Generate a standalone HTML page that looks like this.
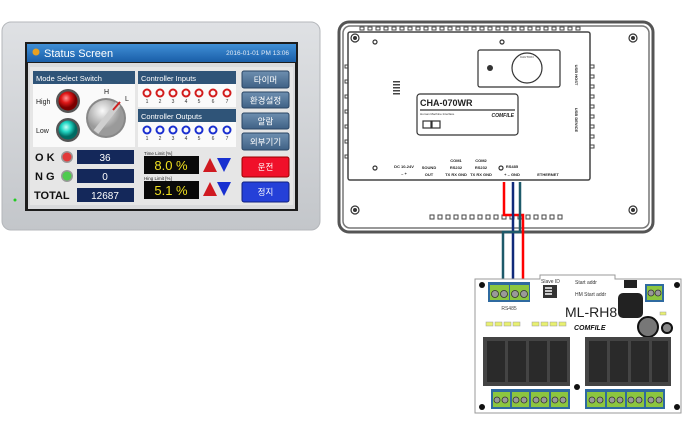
<!DOCTYPE html>
<html><head><meta charset="utf-8"><style>
html,body{margin:0;padding:0;background:#fff;width:682px;height:444px;overflow:hidden}
svg{display:block}
text{font-family:"Liberation Sans","Noto Sans CJK KR",sans-serif}
</style></head><body>
<svg width="682" height="444" viewBox="0 0 682 444" xmlns="http://www.w3.org/2000/svg">
<defs>
<linearGradient id="bez" x1="0" y1="0" x2="0" y2="1"><stop offset="0" stop-color="#dfe1e4"/><stop offset="1" stop-color="#c3c6ca"/></linearGradient>
<linearGradient id="tb" x1="0" y1="0" x2="0" y2="1"><stop offset="0" stop-color="#3f8fd6"/><stop offset="1" stop-color="#1a5ea8"/></linearGradient>
<linearGradient id="btn" x1="0" y1="0" x2="0" y2="1"><stop offset="0" stop-color="#6e8fb0"/><stop offset="1" stop-color="#3f6185"/></linearGradient>
<radialGradient id="red" cx="0.4" cy="0.35"><stop offset="0" stop-color="#ff9a9a"/><stop offset="0.5" stop-color="#e01818"/><stop offset="1" stop-color="#7a0000"/></radialGradient>
<radialGradient id="cyan" cx="0.4" cy="0.35"><stop offset="0" stop-color="#c8fff8"/><stop offset="0.5" stop-color="#22d6c4"/><stop offset="1" stop-color="#006a62"/></radialGradient>
<radialGradient id="knob" cx="0.4" cy="0.3"><stop offset="0" stop-color="#fafafa"/><stop offset="1" stop-color="#9a9a9a"/></radialGradient>
</defs>

<!-- LEFT HMI -->
<rect x="2" y="22" width="318" height="208" rx="9" fill="url(#bez)" stroke="#b4b7bb"/>
<rect x="25" y="42" width="273" height="169" fill="#1c1c1c"/>
<rect x="27" y="44" width="269" height="18" fill="url(#tb)"/>
<circle cx="36" cy="52" r="3.5" fill="#e8a020"/>
<text x="44" y="57" font-size="11" fill="#fff">Status Screen</text>
<text x="289" y="55" font-size="6.5" fill="#dfe8f5" text-anchor="end">2016-01-01 PM 13:06</text>
<rect x="28" y="63" width="267" height="146" fill="#d9dadc"/>
<rect x="30" y="67" width="263" height="138" fill="#e6e6e6"/>
<!-- mode select -->
<rect x="33" y="71" width="102" height="76" fill="#fafafa"/>
<rect x="33" y="71" width="102" height="13" fill="#2f5478"/>
<text x="36" y="81" font-size="7.5" fill="#fff">Mode Select Switch</text>
<text x="36" y="104" font-size="7" fill="#222">High</text>
<text x="36" y="133" font-size="7" fill="#222">Low</text>
<circle cx="68" cy="101" r="12" fill="#555"/><circle cx="68" cy="101" r="9.5" fill="url(#red)"/>
<circle cx="68" cy="130" r="12" fill="#555"/><circle cx="68" cy="130" r="9.5" fill="url(#cyan)"/>
<text x="104" y="94" font-size="7" fill="#222">H</text><text x="125" y="101" font-size="7" fill="#222">L</text>
<circle cx="106" cy="118" r="20" fill="#888"/><circle cx="106" cy="118" r="18" fill="url(#knob)"/>
<line x1="96" y1="132" x2="118" y2="104" stroke="#cfcfcf" stroke-width="6"/>
<line x1="113" y1="110" x2="120" y2="102" stroke="#d02020" stroke-width="2"/>
<!-- controller inputs -->
<rect x="138" y="71" width="98" height="36" fill="#fafafa"/>
<rect x="138" y="71" width="98" height="13" fill="#2f5478"/>
<text x="141" y="81" font-size="7.5" fill="#fff">Controller Inputs</text>
<rect x="138" y="109" width="98" height="38" fill="#fafafa"/>
<rect x="138" y="109" width="98" height="13" fill="#2f5478"/>
<text x="141" y="119" font-size="7.5" fill="#fff">Controller Outputs</text>
<g font-size="5" fill="#333" text-anchor="middle">
<g fill="none" stroke="#d21c1c" stroke-width="2">
<circle cx="147" cy="93" r="3.5"/><circle cx="160" cy="93" r="3.5"/><circle cx="173" cy="93" r="3.5"/><circle cx="186" cy="93" r="3.5"/><circle cx="199" cy="93" r="3.5"/><circle cx="213" cy="93" r="3.5"/><circle cx="227" cy="93" r="3.5"/></g>
<text x="147" y="103">1</text><text x="160" y="103">2</text><text x="173" y="103">3</text><text x="186" y="103">4</text><text x="199" y="103">5</text><text x="213" y="103">6</text><text x="227" y="103">7</text>
<g fill="none" stroke="#1a2fd0" stroke-width="2">
<circle cx="147" cy="130" r="3.5"/><circle cx="160" cy="130" r="3.5"/><circle cx="173" cy="130" r="3.5"/><circle cx="186" cy="130" r="3.5"/><circle cx="199" cy="130" r="3.5"/><circle cx="213" cy="130" r="3.5"/><circle cx="227" cy="130" r="3.5"/></g>
<text x="147" y="140">1</text><text x="160" y="140">2</text><text x="173" y="140">3</text><text x="186" y="140">4</text><text x="199" y="140">5</text><text x="213" y="140">6</text><text x="227" y="140">7</text>
</g>
<!-- buttons -->
<g font-size="8.5" fill="#fff" text-anchor="middle">
<rect x="242" y="71" width="47" height="17" rx="2" fill="url(#btn)" stroke="#2a4564"/><text x="265.5" y="83">타이머</text>
<rect x="242" y="92" width="47" height="16" rx="2" fill="url(#btn)" stroke="#2a4564"/><text x="265.5" y="103.5">환경설정</text>
<rect x="242" y="113" width="47" height="16" rx="2" fill="url(#btn)" stroke="#2a4564"/><text x="265.5" y="124.5">알람</text>
<rect x="242" y="133" width="47" height="17" rx="2" fill="url(#btn)" stroke="#2a4564"/><text x="265.5" y="145">외부기기</text>
<rect x="242" y="157" width="47" height="20" rx="2" fill="#f0102a" stroke="#900"/><text x="265.5" y="170">운전</text>
<rect x="242" y="182" width="47" height="20" rx="2" fill="#2540d8" stroke="#102080"/><text x="265.5" y="195">정지</text>
</g>
<!-- counters -->
<g font-size="11" font-weight="bold" fill="#111">
<text x="35" y="161">O K</text><text x="35" y="180">N G</text><text x="34" y="199">TOTAL</text></g>
<circle cx="67" cy="157" r="6" fill="#999"/><circle cx="67" cy="157" r="4.5" fill="#e23a3a"/>
<circle cx="67" cy="176" r="6" fill="#999"/><circle cx="67" cy="176" r="4.5" fill="#4ecb4e"/>
<g fill="#14285a"><rect x="77" y="150" width="57" height="14"/><rect x="77" y="169" width="57" height="14"/><rect x="77" y="188" width="57" height="14"/></g>
<g font-size="10" fill="#fff" text-anchor="middle"><text x="105" y="161">36</text><text x="105" y="180">0</text><text x="105" y="199">12687</text></g>
<text x="144" y="155" font-size="4.5" fill="#222">Time Limit [%]</text>
<text x="144" y="180" font-size="4.5" fill="#222">Hing Limit [%]</text>
<rect x="144" y="156" width="55" height="18" fill="#0a0a0a"/><rect x="144" y="181" width="55" height="18" fill="#0a0a0a"/>
<g font-size="13" fill="#f0e020" text-anchor="middle"><text x="171" y="170">8.0 %</text><text x="171" y="195">5.1 %</text></g>
<polygon points="203,172 210,158 217,172" fill="#d01a20"/><polygon points="217,158 231,158 224,172" fill="#1830d0"/>
<polygon points="203,196 210,182 217,196" fill="#d01a20"/><polygon points="217,182 231,182 224,196" fill="#1830d0"/>
<circle cx="15" cy="200" r="1.5" fill="#2c2"/>

<!-- RIGHT DEVICE BACK -->
<rect x="339" y="22" width="314" height="210" rx="10" fill="#fff" stroke="#555" stroke-width="3"/>
<rect x="343" y="26" width="306" height="202" rx="7" fill="none" stroke="#777" stroke-width="1.5"/>
<rect x="348" y="32" width="242" height="148" rx="2" fill="#fff" stroke="#444" stroke-width="1.5"/>
<g fill="none" stroke="#444" stroke-width="1">
<path d="M360 30 h4 v-3 h-4z M368 30 h4 v-3 h-4z M376 30 h4 v-3 h-4z M384 30 h4 v-3 h-4z M392 30 h4 v-3 h-4z M400 30 h4 v-3 h-4z M408 30 h4 v-3 h-4z M416 30 h4 v-3 h-4z M424 30 h4 v-3 h-4z M432 30 h4 v-3 h-4z M440 30 h4 v-3 h-4z M448 30 h4 v-3 h-4z M456 30 h4 v-3 h-4z M464 30 h4 v-3 h-4z M472 30 h4 v-3 h-4z M480 30 h4 v-3 h-4z M488 30 h4 v-3 h-4z M496 30 h4 v-3 h-4z M504 30 h4 v-3 h-4z M512 30 h4 v-3 h-4z M520 30 h4 v-3 h-4z M528 30 h4 v-3 h-4z M536 30 h4 v-3 h-4z M544 30 h4 v-3 h-4z M552 30 h4 v-3 h-4z M560 30 h4 v-3 h-4z M568 30 h4 v-3 h-4z M576 30 h4 v-3 h-4z"/>
<path d="M430 219 h4 v-4 h-4z M438 219 h4 v-4 h-4z M446 219 h4 v-4 h-4z M454 219 h4 v-4 h-4z M462 219 h4 v-4 h-4z M470 219 h4 v-4 h-4z M478 219 h4 v-4 h-4z M486 219 h4 v-4 h-4z M494 219 h4 v-4 h-4z M502 219 h4 v-4 h-4z M510 219 h4 v-4 h-4z M518 219 h4 v-4 h-4z M526 219 h4 v-4 h-4z M534 219 h4 v-4 h-4z M542 219 h4 v-4 h-4z M550 219 h4 v-4 h-4z M558 219 h4 v-4 h-4z"/>
<path d="M590 65 h4 v3 h-4 M590 75 h4 v3 h-4 M590 85 h4 v3 h-4 M590 95 h4 v3 h-4 M590 105 h4 v3 h-4 M590 115 h4 v3 h-4 M590 125 h4 v3 h-4 M590 135 h4 v3 h-4 M590 145 h4 v3 h-4 M348 65 h-3 v3 h3 M348 80 h-3 v3 h3 M348 95 h-3 v3 h3 M348 110 h-3 v3 h3 M348 125 h-3 v3 h3 M348 140 h-3 v3 h3 M348 155 h-3 v3 h3"/>
</g>
<g fill="#444"><rect x="393" y="81" width="7" height="1.5"/><rect x="393" y="84" width="7" height="1.5"/><rect x="393" y="87" width="7" height="1.5"/><rect x="393" y="90" width="7" height="1.5"/><rect x="393" y="93" width="7" height="1.5"/></g>
<g fill="none" stroke="#333" stroke-width="1.2">
<circle cx="355" cy="38" r="4"/><circle cx="633" cy="38" r="4"/><circle cx="355" cy="210" r="4"/><circle cx="633" cy="210" r="4"/>
<circle cx="375" cy="42" r="2"/><circle cx="502" cy="42" r="2"/><circle cx="375" cy="168" r="2"/><circle cx="501" cy="168" r="2"/>
<rect x="478" y="50" width="82" height="37" rx="2"/>
<circle cx="527" cy="68" r="15"/>
<rect x="417" y="94" width="101" height="41" rx="3"/>
<rect x="423" y="121" width="8" height="7"/><rect x="432" y="121" width="8" height="7"/>
</g>
<g fill="#333"><circle cx="355" cy="38" r="2"/><circle cx="633" cy="38" r="2"/><circle cx="355" cy="210" r="2"/><circle cx="633" cy="210" r="2"/><circle cx="490" cy="68" r="3"/></g>
<text x="420" y="106" font-size="9" font-weight="bold" fill="#222">CHA-070WR</text>
<line x1="420" y1="110" x2="515" y2="110" stroke="#555" stroke-width="1.5"/>
<text x="420" y="115" font-size="3" fill="#333">Human Machine Interface</text>
<text x="514" y="117" font-size="5" font-weight="bold" font-style="italic" fill="#222" text-anchor="end">COMFILE</text>
<text x="520" y="58" font-size="3" fill="#333">CAUTION</text>
<g font-size="4" fill="#222" text-anchor="middle" font-weight="bold">
<text x="404" y="168">DC 10-24V</text><text x="404" y="175">–  +</text>
<text x="429" y="169">SOUND</text><text x="429" y="176">OUT</text>
<text x="456" y="162">COM1</text><text x="456" y="169">RS232</text><text x="456" y="176">TX RX GND</text>
<text x="481" y="162">COM2</text><text x="481" y="169">RS232</text><text x="481" y="176">TX RX GND</text>
<text x="512" y="168">RS485</text><text x="512" y="176">+ –  GND</text>
<text x="548" y="176">ETHERNET</text>
<text x="575" y="75" transform="rotate(90 575 75)">USB HOST</text>
<text x="575" y="120" transform="rotate(90 575 120)">USB DEVICE</text>
</g>

<!-- WIRES -->
<polyline points="504,182 504,215 523,215 523,281" fill="none" stroke="#f00" stroke-width="2.5"/>
<polyline points="513,182 513,281" fill="none" stroke="#102a7a" stroke-width="2.5"/>
<polyline points="520,182 520,232 503,232 503,281" fill="none" stroke="#1e5a6a" stroke-width="2.5"/>

<!-- BOARD -->
<path d="M475 279 H540 V275 H615 V279 H681 V413 H475 Z" fill="#fff" stroke="#999"/>
<g fill="#111"><circle cx="482" cy="285" r="3"/><circle cx="482" cy="407" r="3"/><circle cx="577" cy="387" r="3"/><circle cx="677" cy="407" r="3"/><circle cx="677" cy="285" r="3"/></g>
<rect x="488" y="282" width="42" height="20" fill="#2f6aa0"/>
<rect x="490" y="285" width="19" height="15" fill="#8cc63f"/><rect x="510" y="285" width="19" height="15" fill="#8cc63f"/>
<g fill="#999" stroke="#333" stroke-width="0.8"><circle cx="495" cy="294" r="3.5"/><circle cx="504" cy="294" r="3.5"/><circle cx="515" cy="294" r="3.5"/><circle cx="524" cy="294" r="3.5"/></g>
<text x="509" y="310" font-size="5" fill="#444" text-anchor="middle">RS485</text>
<rect x="543" y="285" width="14" height="13" fill="#333"/>
<g fill="#ccc"><rect x="545" y="287" width="7" height="2"/><rect x="545" y="290" width="7" height="2"/><rect x="545" y="293" width="7" height="2"/></g>
<text x="541" y="283" font-size="5" fill="#333">Slave ID</text>
<text x="575" y="284" font-size="5" fill="#333">Start addr</text>
<text x="575" y="296" font-size="5" fill="#333">HM Start addr</text>
<text x="565" y="317" font-size="14" fill="#222">ML-RH8</text>
<text x="574" y="330" font-size="7" font-weight="bold" font-style="italic" fill="#111">COMFILE</text>
<rect x="624" y="280" width="13" height="8" fill="#222"/>
<rect x="618" y="293" width="25" height="25" rx="5" fill="#222"/>
<circle cx="648" cy="327" r="10" fill="#777" stroke="#111" stroke-width="2"/>
<circle cx="667" cy="328" r="5" fill="#888" stroke="#111" stroke-width="2"/>
<rect x="645" y="284" width="19" height="18" fill="#2f6aa0"/><rect x="647" y="286" width="15" height="14" fill="#8cc63f"/>
<g fill="#999" stroke="#333" stroke-width="0.8"><circle cx="651" cy="293" r="3"/><circle cx="658" cy="293" r="3"/></g>
<rect x="660" y="312" width="6" height="3" fill="#e8f070" stroke="#999" stroke-width="0.5"/>
<g fill="#e8f070" stroke="#999" stroke-width="0.5">
<rect x="486" y="322" width="7" height="4"/><rect x="495" y="322" width="7" height="4"/><rect x="504" y="322" width="7" height="4"/><rect x="513" y="322" width="7" height="4"/>
<rect x="532" y="322" width="7" height="4"/><rect x="541" y="322" width="7" height="4"/><rect x="550" y="322" width="7" height="4"/><rect x="559" y="322" width="7" height="4"/></g>
<rect x="483" y="337" width="87" height="49" fill="#444"/><rect x="585" y="337" width="86" height="49" fill="#444"/>
<g fill="#2a2a2a"><rect x="487" y="341" width="18" height="41"/><rect x="508" y="341" width="18" height="41"/><rect x="529" y="341" width="18" height="41"/><rect x="550" y="341" width="17" height="41"/>
<rect x="589" y="341" width="18" height="41"/><rect x="610" y="341" width="18" height="41"/><rect x="631" y="341" width="18" height="41"/><rect x="652" y="341" width="16" height="41"/></g>
<rect x="491" y="389" width="79" height="20" fill="#2f6aa0"/><rect x="585" y="389" width="80" height="20" fill="#2f6aa0"/>
<g fill="#8cc63f">
<rect x="493" y="392" width="17" height="15"/><rect x="512" y="392" width="17" height="15"/><rect x="531" y="392" width="18" height="15"/><rect x="551" y="392" width="17" height="15"/>
<rect x="587" y="392" width="18" height="15"/><rect x="607" y="392" width="18" height="15"/><rect x="627" y="392" width="17" height="15"/><rect x="646" y="392" width="17" height="15"/></g>
<g fill="#999" stroke="#333" stroke-width="0.8">
<circle cx="497" cy="400" r="3"/><circle cx="505" cy="400" r="3"/><circle cx="516" cy="400" r="3"/><circle cx="524" cy="400" r="3"/><circle cx="536" cy="400" r="3"/><circle cx="544" cy="400" r="3"/><circle cx="555" cy="400" r="3"/><circle cx="563" cy="400" r="3"/>
<circle cx="592" cy="400" r="3"/><circle cx="600" cy="400" r="3"/><circle cx="612" cy="400" r="3"/><circle cx="620" cy="400" r="3"/><circle cx="631" cy="400" r="3"/><circle cx="639" cy="400" r="3"/><circle cx="651" cy="400" r="3"/><circle cx="659" cy="400" r="3"/></g>
</svg>
</body></html>
